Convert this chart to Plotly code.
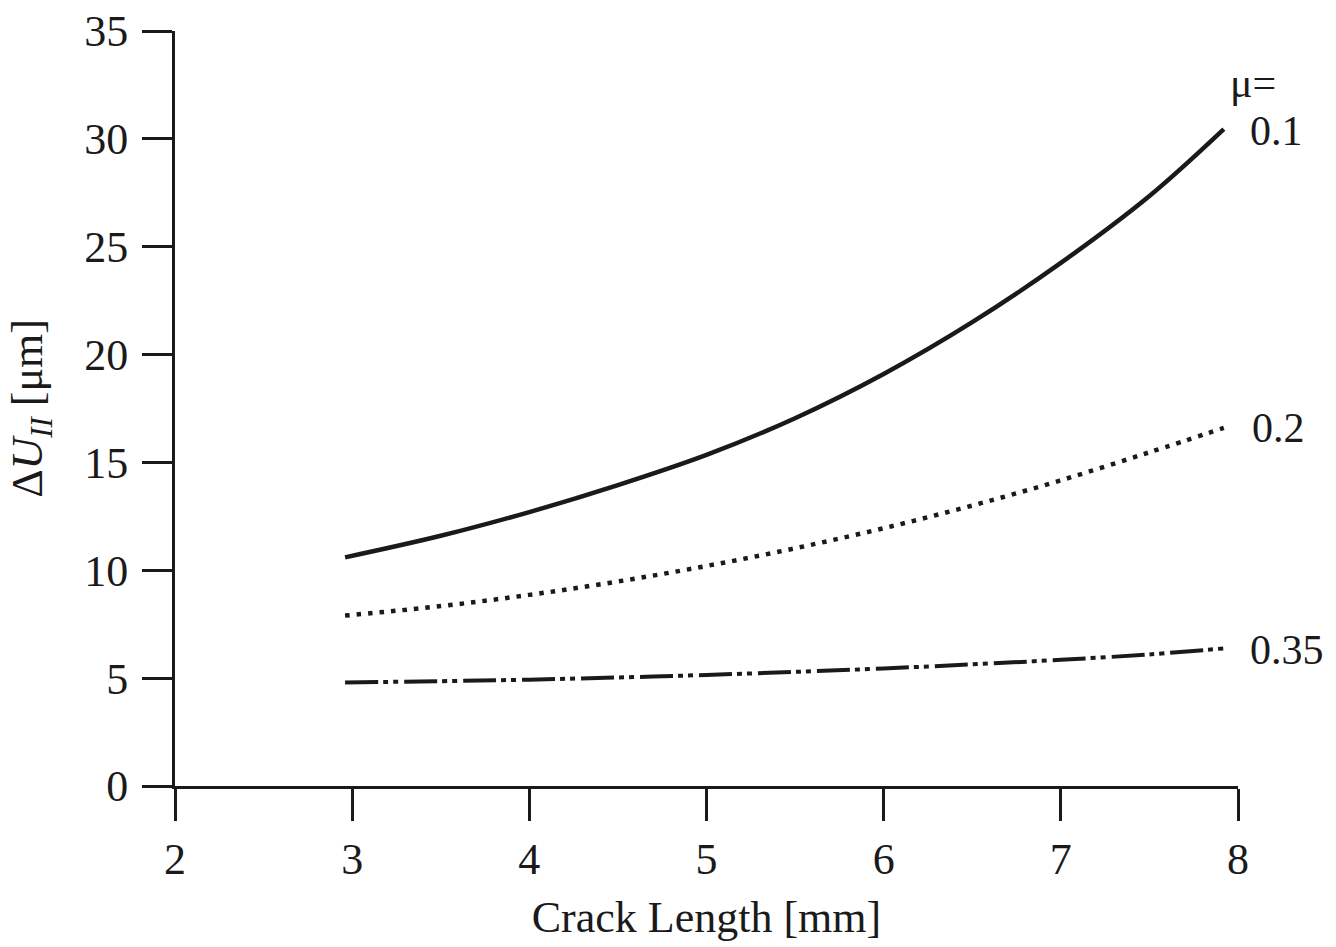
import plotly.graph_objects as go

# Data
crack_length = [2.96, 3.5, 4.0, 4.5, 5.0, 5.5, 6.0, 6.5, 7.0, 7.5, 7.92]
du_mu_010 = [10.6, 11.6, 12.7, 13.95, 15.35, 17.05, 19.1, 21.5, 24.25, 27.35, 30.45]
du_mu_020 = [7.9, 8.34, 8.86, 9.48, 10.2, 11.02, 11.95, 13.0, 14.17, 15.47, 16.6]
du_mu_035 = [4.8, 4.86, 4.93, 5.03, 5.15, 5.29, 5.45, 5.64, 5.85, 6.1, 6.38]

series_labels = ["0.1", "0.2", "0.35"]
x_ticks = [2, 3, 4, 5, 6, 7, 8]
y_ticks = [0, 5, 10, 15, 20, 25, 30, 35]

FONT = "Liberation Serif, Times New Roman, serif"
INK = "#1a1a1a"

fig = go.Figure()
styles = [
    dict(width=4.5, dash="solid"),
    dict(width=4.5, dash="4.5px,7px"),
    dict(width=4, dash="33px,5px,5px,5px,5px,6px"),
]
for ys, lab, st in zip([du_mu_010, du_mu_020, du_mu_035], series_labels, styles):
    fig.add_trace(go.Scatter(
        x=crack_length, y=ys, mode="lines", name="μ=" + lab,
        line=dict(color=INK, width=st["width"], dash=st["dash"], shape="spline", smoothing=1.0),
        showlegend=False, cliponaxis=False,
    ))

# End-of-line labels (paper coordinates, to the right of the plot area)
fig.add_annotation(x=1.0, y=0.9305, xref="paper", yref="paper", text="μ=", showarrow=False,
                   xanchor="left", yanchor="middle", xshift=-10,
                   font=dict(family=FONT, size=42, color=INK))
label_pos = [(1.0094, 30.37 / 35), (1.0113, 16.6 / 35), (1.0094, 6.3 / 35)]
for lab, (lx, ly) in zip(series_labels, label_pos):
    fig.add_annotation(x=lx, y=ly, xref="paper", yref="paper", text=lab, showarrow=False,
                       xanchor="left", yanchor="middle",
                       font=dict(family=FONT, size=42, color=INK))

fig.update_layout(
    width=1336, height=947,
    margin=dict(l=175, r=98, t=31, b=161, autoexpand=False),
    paper_bgcolor="white", plot_bgcolor="white",
    font=dict(family=FONT, size=44, color=INK),
)
fig.update_xaxes(
    range=[2, 8], tickvals=x_ticks, ticktext=[str(v) for v in x_ticks],
    showgrid=False, zeroline=False, showline=True, linecolor=INK, linewidth=3,
    ticks="outside", ticklen=32, tickwidth=3, tickcolor=INK,
    tickfont=dict(family=FONT, size=44, color=INK), ticklabelstandoff=0,
    title=dict(text="Crack Length [mm]", font=dict(family=FONT, size=44, color=INK), standoff=19),
)
fig.update_yaxes(
    range=[0, 35], tickvals=y_ticks, ticktext=[str(v) for v in y_ticks],
    showgrid=False, zeroline=False, showline=True, linecolor=INK, linewidth=3,
    ticks="outside", ticklen=30, tickwidth=3, tickcolor=INK,
    tickfont=dict(family=FONT, size=44, color=INK), ticklabelstandoff=5,
    title=dict(text="Δ<i>U</i><sub><i>II</i></sub> [μm]", font=dict(family=FONT, size=44, color=INK), standoff=28),
)

fig.write_html("out.html")
